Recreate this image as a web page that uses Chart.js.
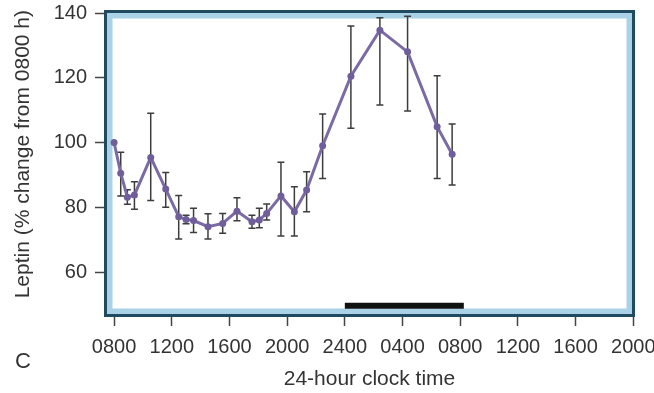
<!DOCTYPE html>
<html>
<head>
<meta charset="utf-8">
<script src="https://cdn.jsdelivr.net/npm/chart.js@4.4.1/dist/chart.umd.min.js"></script>
<style>
  html, body { margin: 0; padding: 0; background: #ffffff; }
  #wrap { width: 654px; height: 393px; }
</style>
</head>
<body>
<div id="wrap"><canvas id="c" width="654" height="393"></canvas></div>
<script>
// ---- data (hours after 0800 h) ----
const hours    = [0, 0.46, 0.92, 1.41, 2.54, 3.58, 4.48, 4.99, 5.51, 6.51, 7.53, 8.52, 9.56, 10.07, 10.58, 11.57, 12.5, 13.35, 14.46, 16.42, 18.43, 20.35, 22.4, 23.44];
const leptin   = [100, 90.5, 83.1, 83.8, 95.4, 85.6, 77.1, 76.2, 75.9, 74.0, 75.0, 78.8, 75.5, 76.1, 78.1, 83.5, 78.6, 85.3, 99.0, 120.5, 134.7, 128.0, 104.9, 96.4];
const errUpper = [null, 97.0, 85.4, 87.9, 109.0, 90.7, 83.6, 77.5, 79.7, 78.0, 78.1, 82.9, 77.5, 79.7, 81.0, 93.9, 86.3, 91.0, 108.8, 136.0, 138.5, 139.0, 120.6, 105.7];
const errLower = [null, 83.5, 80.9, 79.4, 82.1, 80.0, 70.2, 74.9, 72.2, 70.2, 72.0, 75.8, 73.5, 73.7, 76.1, 71.1, 71.1, 78.6, 88.9, 104.4, 111.6, 109.7, 88.9, 86.9];
const sleepPeriod = [16, 24.25];
const sleepLevel  = 49.6;
const xTickHours  = [0, 4, 8, 12, 16, 20, 24, 28, 32, 36];
const xTickLabels = ["0800", "1200", "1600", "2000", "2400", "0400", "0800", "1200", "1600", "2000"];
const yTicks      = [60, 80, 100, 120, 140];

const FONT = "'Liberation Sans', Arial, Helvetica, sans-serif";
const TEXT = '#333333';

const framePlugin = {
  id: 'frame',
  beforeDatasetsDraw(chart) {
    const {ctx, chartArea: a} = chart;
    ctx.save();
    // light blue inner strip
    ctx.strokeStyle = '#a9d2e6';
    ctx.lineWidth = 6;
    ctx.strokeRect(a.left + 5.5, a.top + 5.5, a.right - a.left - 11, a.bottom - a.top - 11);
    // dark outer frame
    ctx.strokeStyle = '#1f4a5f';
    ctx.lineWidth = 3;
    ctx.strokeRect(a.left + 1.5, a.top + 1.5, a.right - a.left - 3, a.bottom - a.top - 3);
    // error bars
    const xs = chart.scales.x, ys = chart.scales.y;
    ctx.strokeStyle = '#3d3d3d';
    ctx.lineWidth = 1.5;
    for (let i = 0; i < hours.length; i++) {
      if (errUpper[i] == null) continue;
      const x = xs.getPixelForValue(hours[i]);
      const yt = ys.getPixelForValue(errUpper[i]);
      const yb = ys.getPixelForValue(errLower[i]);
      ctx.beginPath();
      ctx.moveTo(x, yt); ctx.lineTo(x, yb);
      ctx.moveTo(x - 3.5, yt); ctx.lineTo(x + 3.5, yt);
      ctx.moveTo(x - 3.5, yb); ctx.lineTo(x + 3.5, yb);
      ctx.stroke();
    }
    ctx.restore();
  },
  afterDraw(chart) {
    const {ctx} = chart;
    ctx.save();
    ctx.fillStyle = TEXT;
    ctx.font = '22px ' + FONT;
    ctx.textAlign = 'center';
    ctx.textBaseline = 'middle';
    ctx.fillText('C', 23, 362);
    ctx.restore();
  }
};

function zeroPad(s) { s.paddingLeft = 0; s.paddingRight = 0; s.paddingTop = 0; s.paddingBottom = 0; }

new Chart(document.getElementById('c'), {
  type: 'line',
  data: {
    datasets: [
      {
        data: hours.map((h, i) => ({x: h, y: leptin[i]})),
        borderColor: '#7b6aa4',
        backgroundColor: '#6f5e9a',
        borderWidth: 3,
        pointRadius: 3.5,
        pointBorderWidth: 0,
        pointBackgroundColor: '#6f5e9a',
        tension: 0,
        order: 1
      },
      {
        data: sleepPeriod.map(h => ({x: h, y: sleepLevel})),
        borderColor: '#111111',
        borderWidth: 6,
        borderCapStyle: 'butt',
        pointRadius: 0,
        order: 2
      }
    ]
  },
  options: {
    responsive: false,
    animation: false,
    devicePixelRatio: 1,
    layout: { padding: { top: 10, right: 19, left: 0, bottom: 0 } },
    plugins: { legend: { display: false }, tooltip: { enabled: false } },
    scales: {
      x: {
        type: 'linear',
        min: -0.7,
        max: 36.12,
        afterBuildTicks: s => { s.ticks = xTickHours.map(v => ({value: v})); },
        afterFit: s => { s.height = 76; zeroPad(s); },
        ticks: {
          callback: (v) => { const i = xTickHours.indexOf(v); return i >= 0 ? xTickLabels[i] : ''; },
          font: { family: FONT, size: 20 },
          color: TEXT,
          padding: 9,
          maxRotation: 0,
          autoSkip: false
        },
        grid: { drawOnChartArea: false, drawTicks: true, tickLength: 9, tickColor: '#444444', tickWidth: 1.5 },
        border: { display: false },
        title: {
          display: true,
          text: '24-hour clock time',
          font: { family: FONT, size: 21 },
          color: TEXT,
          padding: { top: 0, bottom: 1 }
        }
      },
      y: {
        type: 'linear',
        min: 46.1,
        max: 140.93,
        afterBuildTicks: s => { s.ticks = yTicks.map(v => ({value: v})); },
        afterFit: s => { s.width = 104; zeroPad(s); },
        ticks: {
          font: { family: FONT, size: 20 },
          color: TEXT,
          padding: 8
        },
        grid: { drawOnChartArea: false, drawTicks: true, tickLength: 9, tickColor: '#444444', tickWidth: 1.5 },
        border: { display: false },
        title: {
          display: true,
          text: 'Leptin (% change from 0800 h)',
          align: 'end',
          font: { family: FONT, size: 21 },
          color: TEXT,
          padding: { top: 11, bottom: 0 }
        }
      }
    }
  },
  plugins: [framePlugin]
});
</script>
</body>
</html>
